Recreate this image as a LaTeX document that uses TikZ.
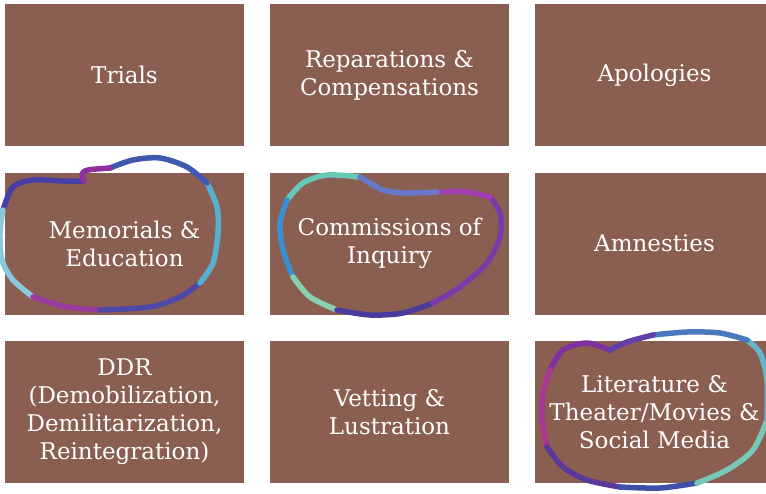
\documentclass[tikz,border=0pt]{standalone}
\usepackage{fontspec}
\setmainfont{DejaVu Serif}
\definecolor{tileBrown}{HTML}{8B5E52}
\begin{document}
\begin{tikzpicture}[x=1pt,y=-1pt,
                      tileNode/.style={fill=tileBrown,text=white,align=center,inner sep=0pt,
                        minimum width=239pt,minimum height=142pt,
                        font=\fontsize{23}{28}\selectfont},
                      loopLine/.style={line width=5.5pt,line cap=round,line join=round}]
    \useasboundingbox (0,0) rectangle (766,493);
    \node [tileNode] (trials) at (124.5,75) {Trials};
    \node [tileNode] (reparations) at (389.5,75) {Reparations \&\\Compensations};
    \node [tileNode] (apologies) at (654.5,75) {Apologies};
    \node [tileNode] (memorials) at (124.5,243.5) {Memorials \&\\Education};
    \node [tileNode] (commissions) at (389.5,243.5) {Commissions of\\Inquiry};
    \node [tileNode] (amnesties) at (654.5,243.5) {Amnesties};
    \node [tileNode] (ddr) at (124.5,412) {DDR\\(Demobilization,\\Demilitarization,\\Reintegration)};
    \node [tileNode] (vetting) at (389.5,412) {Vetting \&\\Lustration};
    \node [tileNode] (literature) at (654.5,412) {Literature \&\\Theater/Movies \&\\Social Media};
    \draw [loopLine,color={rgb,255:red,70;green,62;blue,164}] plot [smooth] coordinates {(84,181) (63,181) (33,180) (13,187) (3,210)};
    \draw [loopLine,color={rgb,255:red,140;green,200;blue,220}] plot [smooth] coordinates {(3,210) (0,233) (2,260) (13,280) (33,297)};
    \draw [loopLine,color={rgb,255:red,154;green,58;blue,158}] plot [smooth] coordinates {(33,297) (67,307) (100,310)};
    \draw [loopLine,color={rgb,255:red,80;green,72;blue,168}] plot [smooth] coordinates {(100,310) (150,307) (180,297) (200,283)};
    \draw [loopLine,color={rgb,255:red,88;green,176;blue,208}] plot [smooth] coordinates {(200,283) (213,263) (218,233) (217,207) (207,183)};
    \draw [loopLine,color={rgb,255:red,64;green,88;blue,176}] plot [smooth] coordinates {(207,183) (187,167) (160,158) (133,160) (110,168)};
    \draw [loopLine,color={rgb,255:red,144;green,48;blue,160}] plot [smooth] coordinates {(110,168) (88,170) (82,174) (84,181)};
    \draw [loopLine,color={rgb,255:red,104;green,200;blue,184}] plot [smooth] coordinates {(360,177) (327,175) (303,183) (287,200)};
    \draw [loopLine,color={rgb,255:red,56;green,144;blue,208}] plot [smooth] coordinates {(287,200) (280,223) (283,250) (293,277)};
    \draw [loopLine,color={rgb,255:red,136;green,208;blue,176}] plot [smooth] coordinates {(293,277) (310,297) (337,310)};
    \draw [loopLine,color={rgb,255:red,74;green,60;blue,156}] plot [smooth] coordinates {(337,310) (370,315) (403,313) (433,303)};
    \draw [loopLine,color={rgb,255:red,122;green,58;blue,168}] plot [smooth] coordinates {(433,303) (460,287) (487,263) (500,237) (500,213) (490,197)};
    \draw [loopLine,color={rgb,255:red,160;green,64;blue,176}] plot [smooth] coordinates {(490,197) (467,192) (437,192)};
    \draw [loopLine,color={rgb,255:red,104;green,120;blue,200}] plot [smooth] coordinates {(437,192) (403,193) (383,190) (370,183) (360,177)};
    \draw [loopLine,color={rgb,255:red,128;green,48;blue,160}] plot [smooth] coordinates {(610,350) (587,343) (563,350) (550,370)};
    \draw [loopLine,color={rgb,255:red,168;green,56;blue,144}] plot [smooth] coordinates {(550,370) (543,393) (542,420) (547,447)};
    \draw [loopLine,color={rgb,255:red,90;green,56;blue,152}] plot [smooth] coordinates {(547,447) (563,467) (587,480) (620,487)};
    \draw [loopLine,color={rgb,255:red,64;green,80;blue,168}] plot [smooth] coordinates {(620,487) (660,488) (697,483)};
    \draw [loopLine,color={rgb,255:red,120;green,200;blue,184}] plot [smooth] coordinates {(697,483) (727,470) (753,450) (767,420)};
    \draw [loopLine,color={rgb,255:red,96;green,184;blue,200}] plot [smooth] coordinates {(767,420) (767,380) (760,353) (747,340)};
    \draw [loopLine,color={rgb,255:red,72;green,120;blue,192}] plot [smooth] coordinates {(747,340) (720,333) (687,332) (653,335)};
    \draw [loopLine,color={rgb,255:red,96;green,64;blue,168}] plot [smooth] coordinates {(653,335) (627,342) (610,350)};
\end{tikzpicture}
\end{document}
